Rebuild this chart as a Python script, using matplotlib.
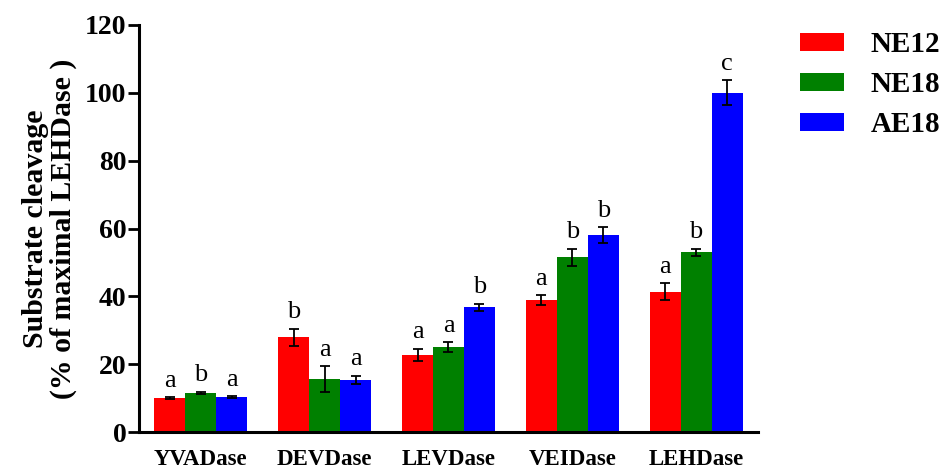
import numpy as np
import matplotlib.pyplot as plt

plt.rcParams['font.family'] = ['Liberation Serif', 'DejaVu Serif']

substrates = ['YVADase', 'DEVDase', 'LEVDase', 'VEIDase', 'LEHDase']
groups = ['NE12', 'NE18', 'AE18']
colors = ['#ff0000', '#008000', '#0000ff']

ne12 = [10.0, 28.0, 22.7, 38.8, 41.3]
ne18 = [11.5, 15.6, 25.0, 51.5, 53.0]
ae18 = [10.3, 15.4, 36.8, 58.0, 100.0]

ne12_err = [0.3, 2.5, 1.8, 1.5, 2.5]
ne18_err = [0.3, 3.8, 1.5, 2.5, 1.0]
ae18_err = [0.3, 1.2, 1.0, 2.3, 3.7]

ne12_sig = ['a', 'b', 'a', 'a', 'a']
ne18_sig = ['b', 'a', 'a', 'b', 'b']
ae18_sig = ['a', 'a', 'b', 'b', 'c']

fig = plt.figure(figsize=(9.43, 4.68), dpi=100)
ax = fig.add_axes([0.1474, 0.0769, 0.6564, 0.8697])

x = np.arange(len(substrates))
w = 0.25
series = [(ne12, ne12_err, ne12_sig), (ne18, ne18_err, ne18_sig), (ae18, ae18_err, ae18_sig)]
for i, (vals, errs, sigs) in enumerate(series):
    pos = x + (i - 1) * w
    ax.bar(pos, vals, width=w, color=colors[i], label=groups[i], edgecolor='none')
    ax.errorbar(pos, vals, yerr=errs, fmt='none', ecolor='black',
                elinewidth=1.3, capsize=3.5, capthick=1.3)
    for px, v, e, s in zip(pos, vals, errs, sigs):
        ax.annotate(s, (px, v + e), xytext=(0, 4), textcoords='offset points',
                    ha='center', va='bottom', fontsize=19)

ax.set_xlim(-0.5, 4.5)
ax.set_ylim(0, 120)
ax.set_yticks(range(0, 121, 20))
ax.set_xticks(x)
ax.set_xticklabels(substrates, fontsize=16.5, fontweight='bold')
ax.tick_params(axis='x', length=0, pad=12)
ax.tick_params(axis='y', length=8, width=2, labelsize=20, pad=1)
for t in ax.get_yticklabels():
    t.set_fontweight('bold')

for side in ['top', 'right']:
    ax.spines[side].set_visible(False)
for side in ['left', 'bottom']:
    ax.spines[side].set_linewidth(2.2)

ax.set_ylabel('Substrate cleavage\n(% of maximal LEHDase )', fontsize=21.5,
              fontweight='bold', labelpad=6, linespacing=1.0)

leg = ax.legend(loc='upper left', frameon=False,
                prop={'size': 21, 'weight': 'bold'}, handlelength=1.5,
                handleheight=0.6, handletextpad=0.93, labelspacing=0.45,
                borderaxespad=0.0, borderpad=0.0)
leg.set_bbox_to_anchor(((800 - 139) / 619, 0.985), transform=ax.transAxes)

fig.savefig('out.png', dpi=100)
